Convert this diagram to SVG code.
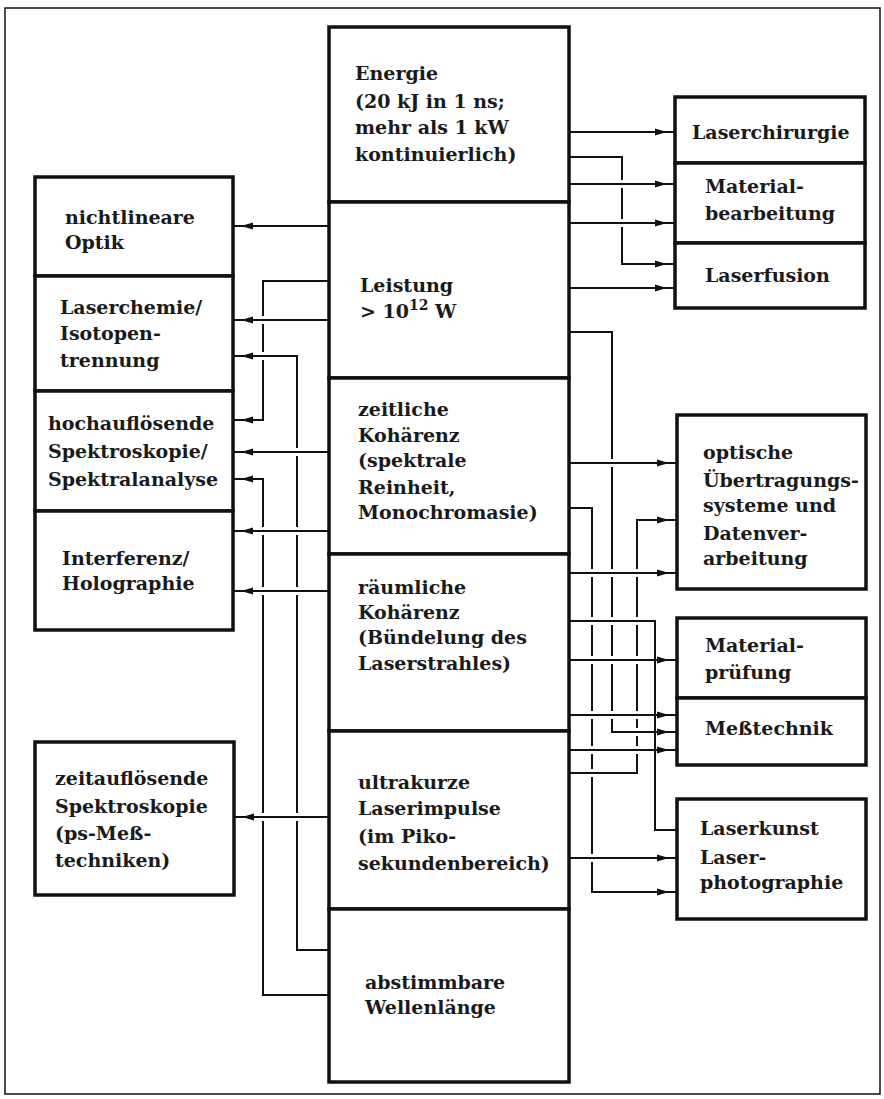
<svg xmlns="http://www.w3.org/2000/svg" width="884" height="1099" viewBox="0 0 884 1099">
<defs>
<style>
.frame{fill:none;stroke:#111;stroke-width:1.5}
.box{fill:#fff;stroke:#111;stroke-width:3.5}
.t{font-family:"DejaVu Serif","Liberation Serif",serif;font-weight:bold;font-size:19px;fill:#1a1a1a}
.c{fill:none;stroke:#111;stroke-width:2}
.a{marker-end:url(#ah)}
.gap{fill:none;stroke:#fff;stroke-width:4}
.br{fill:none;stroke:#111;stroke-width:2}
</style>
<marker id="ah" markerUnits="userSpaceOnUse" markerWidth="20" markerHeight="10" viewBox="0 0 20 10" refX="20" refY="5" orient="auto">
<path d="M0,1.5 L12,5 L0,8.5 z" fill="#111"/>
</marker>
</defs>
<rect width="884" height="1099" fill="#fff"/>
<rect class="frame" x="5" y="8" width="875" height="1086"/>

<g id="connectors">
<path class="c a" d="M329,226 H233"/>
<path class="c a" d="M329,281 H263 V420 H233"/>
<path class="c a" d="M329,320 H233"/>
<path class="c a" d="M329,950 H297 V356 H233"/>
<path class="c a" d="M329,452 H233"/>
<path class="c a" d="M329,995 H263 V479 H233"/>
<path class="c a" d="M329,531 H233"/>
<path class="c a" d="M329,591 H233"/>
<path class="c a" d="M329,817 H234"/>
<path class="c a" d="M569,132 H675"/>
<path class="c a" d="M569,157 H622 V264 H675"/>
<path class="c a" d="M569,184 H675"/>
<path class="c a" d="M569,223 H675"/>
<path class="c a" d="M569,288 H675"/>
<path class="c a" d="M569,332 H612 V732 H677"/>
<path class="c a" d="M569,463 H677"/>
<path class="c a" d="M569,508 H592 V892 H677"/>
<path class="c a" d="M569,573 H677"/>
<path class="c" d="M569,621 H655 V830 H677"/>
<path class="c a" d="M569,660 H677"/>
<path class="c a" d="M569,715 H677"/>
<path class="c a" d="M569,750 H677"/>
<path class="c a" d="M569,773 H637 V520 H677"/>
<path class="c a" d="M569,858 H677"/>
<path class="gap" d="M622,180V188M622,219V227M612,459V467M612,569V577M612,617V625M612,656V664M612,711V719M592,569V577M592,617V625M592,656V664M592,711V719M592,746V754M592,769V777M592,854V862M637,569V577M637,617V625M637,656V664M637,711V719M637,728V736M637,746V754M263,316V324M263,352V360M263,527V535M263,587V595M263,813V821M297,448V456M297,527V535M297,587V595M297,813V821"/>
<path class="br" d="M618,184H626M618,223H626M608,463H616M608,573H616M608,621H616M608,660H616M608,715H616M588,573H596M588,621H596M588,660H596M588,715H596M588,750H596M588,773H596M588,858H596M633,573H641M633,621H641M633,660H641M633,715H641M633,732H641M633,750H641M259,320H267M259,356H267M259,531H267M259,591H267M259,817H267M293,452H301M293,531H301M293,591H301M293,817H301"/>
</g>

<g id="energie">
<rect class="box" x="329" y="27" width="240" height="175"/>
<text class="t" x="355" y="80">Energie</text>
<text class="t" x="355" y="108">(20 kJ in 1 ns;</text>
<text class="t" x="355" y="134">mehr als 1 kW</text>
<text class="t" x="355" y="161">kontinuierlich)</text>
</g>
<g id="leistung">
<rect class="box" x="329" y="202" width="240" height="176"/>
<text class="t" x="360" y="292">Leistung</text>
<text class="t" x="360" y="318">&gt; 10<tspan font-size="14" dy="-8">12</tspan><tspan dy="8"> W</tspan></text>
</g>
<g id="zeitliche-kohaerenz">
<rect class="box" x="329" y="378" width="240" height="176"/>
<text class="t" x="358" y="416">zeitliche</text>
<text class="t" x="358" y="442">Kohärenz</text>
<text class="t" x="358" y="467">(spektrale</text>
<text class="t" x="358" y="494">Reinheit,</text>
<text class="t" x="358" y="519">Monochromasie)</text>
</g>
<g id="raeumliche-kohaerenz">
<rect class="box" x="329" y="554" width="240" height="177"/>
<text class="t" x="358" y="594">räumliche</text>
<text class="t" x="358" y="619">Kohärenz</text>
<text class="t" x="358" y="644">(Bündelung des</text>
<text class="t" x="358" y="670">Laserstrahles)</text>
</g>
<g id="ultrakurze">
<rect class="box" x="329" y="731" width="240" height="178"/>
<text class="t" x="358" y="789">ultrakurze</text>
<text class="t" x="358" y="815">Laserimpulse</text>
<text class="t" x="358" y="843">(im Piko-</text>
<text class="t" x="358" y="870">sekundenbereich)</text>
</g>
<g id="abstimmbare">
<rect class="box" x="329" y="909" width="240" height="173"/>
<text class="t" x="365" y="989">abstimmbare</text>
<text class="t" x="365" y="1014">Wellenlänge</text>
</g>

<g id="nichtlineare-optik">
<rect class="box" x="35" y="177" width="198" height="99"/>
<text class="t" x="65" y="224">nichtlineare</text>
<text class="t" x="65" y="249">Optik</text>
</g>
<g id="laserchemie">
<rect class="box" x="35" y="276" width="198" height="115"/>
<text class="t" x="60" y="314">Laserchemie/</text>
<text class="t" x="60" y="340">Isotopen-</text>
<text class="t" x="60" y="367">trennung</text>
</g>
<g id="hochaufloesende">
<rect class="box" x="35" y="391" width="198" height="120"/>
<text class="t" x="48" y="430">hochauflösende</text>
<text class="t" x="48" y="458">Spektroskopie/</text>
<text class="t" x="48" y="486">Spektralanalyse</text>
</g>
<g id="interferenz">
<rect class="box" x="35" y="511" width="198" height="119"/>
<text class="t" x="62" y="565">Interferenz/</text>
<text class="t" x="62" y="590">Holographie</text>
</g>
<g id="zeitaufloesende">
<rect class="box" x="35" y="742" width="199" height="153"/>
<text class="t" x="55" y="785">zeitauflösende</text>
<text class="t" x="55" y="813">Spektroskopie</text>
<text class="t" x="55" y="840">(ps-Meß-</text>
<text class="t" x="55" y="867">techniken)</text>
</g>

<g id="laserchirurgie">
<rect class="box" x="675" y="97" width="190" height="66"/>
<text class="t" x="692" y="139">Laserchirurgie</text>
</g>
<g id="materialbearbeitung">
<rect class="box" x="675" y="163" width="190" height="80"/>
<text class="t" x="705" y="193">Material-</text>
<text class="t" x="705" y="220">bearbeitung</text>
</g>
<g id="laserfusion">
<rect class="box" x="675" y="243" width="190" height="65"/>
<text class="t" x="705" y="282">Laserfusion</text>
</g>
<g id="optische">
<rect class="box" x="677" y="415" width="189" height="174"/>
<text class="t" x="703" y="459">optische</text>
<text class="t" x="703" y="487">Übertragungs-</text>
<text class="t" x="703" y="512">systeme und</text>
<text class="t" x="703" y="540">Datenver-</text>
<text class="t" x="703" y="565">arbeitung</text>
</g>
<g id="materialpruefung">
<rect class="box" x="677" y="618" width="189" height="80"/>
<text class="t" x="705" y="652">Material-</text>
<text class="t" x="705" y="679">prüfung</text>
</g>
<g id="messtechnik">
<rect class="box" x="677" y="698" width="189" height="67"/>
<text class="t" x="705" y="735">Meßtechnik</text>
</g>
<g id="laserkunst">
<rect class="box" x="677" y="799" width="189" height="120"/>
<text class="t" x="700" y="835">Laserkunst</text>
<text class="t" x="700" y="864">Laser-</text>
<text class="t" x="700" y="889">photographie</text>
</g>
</svg>
